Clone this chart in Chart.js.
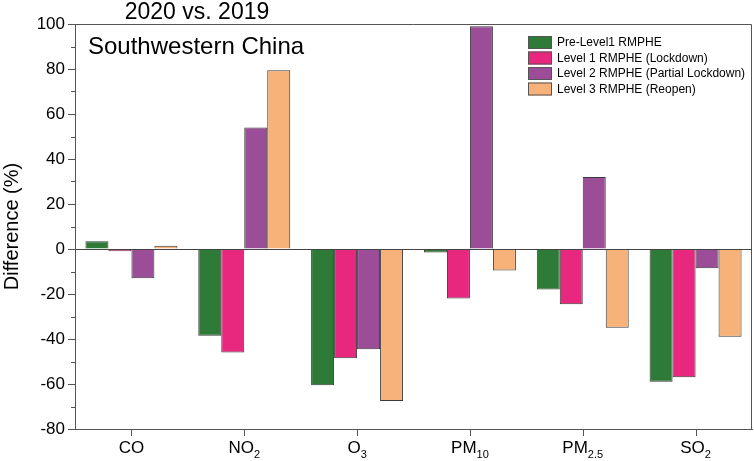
<!DOCTYPE html>
<html>
<head>
<meta charset="utf-8">
<script src="https://cdn.jsdelivr.net/npm/chart.js@4.4.1/dist/chart.umd.min.js"></script>
<style>
  html, body { margin: 0; padding: 0; background: #fff; }
  #wrap { width: 754px; height: 461px; }
</style>
</head>
<body>
<div id="wrap"><canvas id="grafico"></canvas></div>
<script>
// poluentes: [base, subscrito]
const poluentes = [['CO', ''], ['NO', '2'], ['O', '3'], ['PM', '10'], ['PM', '2.5'], ['SO', '2']];
const preLevel1 = [3.5, -38.5, -60.5, -1.5, -18, -59];
const level1 = [-1, -46, -48.5, -22, -24.5, -57];
const level2 = [-13, 54, -44.5, 99, 32, -8.5];
const level3 = [1.5, 79.5, -67.5, -9.5, -35, -39];
const yTicks = [-80, -60, -40, -20, 0, 20, 40, 60, 80, 100];

const fonte = '"Liberation Sans", Arial, sans-serif';

const extras = {
    id: 'extras',
    afterDraw(chart) {
        const ctx = chart.ctx;
        const area = chart.chartArea;
        const x = chart.scales.x;
        const y = chart.scales.y;
        ctx.save();

        // moldura
        ctx.strokeStyle = '#555';
        ctx.lineWidth = 1;
        ctx.beginPath();
        ctx.moveTo(area.left, area.top + 0.5);
        ctx.lineTo(area.right - 0.5, area.top + 0.5);
        ctx.lineTo(area.right - 0.5, area.bottom);
        ctx.stroke();

        // linha do zero
        const y0 = Math.round(y.getPixelForValue(0)) + 0.5;
        ctx.strokeStyle = '#444';
        ctx.beginPath();
        ctx.moveTo(area.left, y0);
        ctx.lineTo(area.right, y0);
        ctx.stroke();

        // ticks menores
        ctx.strokeStyle = '#555';
        for (let v = -70; v <= 90; v += 20) {
            const py = Math.round(y.getPixelForValue(v)) + 0.5;
            ctx.beginPath();
            ctx.moveTo(area.left - 4, py);
            ctx.lineTo(area.left, py);
            ctx.stroke();
        }

        // ticks do eixo x no centro das categorias
        poluentes.forEach(function (p, i) {
            const px = Math.round(x.getPixelForValue(i)) + 0.5;
            ctx.beginPath();
            ctx.moveTo(px, area.bottom);
            ctx.lineTo(px, area.bottom + 7);
            ctx.stroke();
        });

        // rotulos do eixo x com subscrito
        ctx.fillStyle = '#000';
        ctx.textBaseline = 'alphabetic';
        poluentes.forEach(function (p, i) {
            const cx = x.getPixelForValue(i);
            ctx.font = '17px ' + fonte;
            const wBase = ctx.measureText(p[0]).width;
            ctx.font = '11px ' + fonte;
            const wSub = ctx.measureText(p[1]).width;
            const x0 = cx - (wBase + wSub) / 2;
            ctx.font = '17px ' + fonte;
            ctx.textAlign = 'left';
            ctx.fillText(p[0], x0, 453);
            ctx.font = '11px ' + fonte;
            ctx.fillText(p[1], x0 + wBase, 458);
        });

        // titulo e regiao
        ctx.font = '23px ' + fonte;
        ctx.textAlign = 'center';
        ctx.fillText('2020 vs. 2019', 197, 19);
        ctx.font = '24px ' + fonte;
        ctx.textAlign = 'left';
        ctx.fillText('Southwestern China', 88, 54);

        // legenda
        ctx.font = '12px ' + fonte;
        ctx.textBaseline = 'middle';
        chart.data.datasets.forEach(function (ds, i) {
            const ly = 42 + i * 15.5;
            ctx.fillStyle = ds.backgroundColor;
            ctx.fillRect(528, ly - 6, 24, 13);
            ctx.strokeStyle = '#555';
            ctx.strokeRect(528.5, ly - 5.5, 23, 12);
            ctx.fillStyle = '#000';
            ctx.fillText(ds.label, 557, ly + 1);
        });

        ctx.restore();
    }
};

const ctx = document.getElementById('grafico').getContext('2d');
const grafico = new Chart(ctx, {
    type: 'bar',
    data: {
        labels: poluentes.map(p => p[0] + p[1]),
        datasets: [
            { label: 'Pre-Level1 RMPHE', data: preLevel1, backgroundColor: '#2e7b37' },
            { label: 'Level 1 RMPHE (Lockdown)', data: level1, backgroundColor: '#e8287e' },
            { label: 'Level 2 RMPHE (Partial Lockdown)', data: level2, backgroundColor: '#9b4d97' },
            { label: 'Level 3 RMPHE (Reopen)', data: level3, backgroundColor: '#f7b27a' }
        ]
    },
    options: {
        responsive: true,
        maintainAspectRatio: false,
        animation: false,
        datasets: {
            bar: {
                categoryPercentage: 0.815,
                barPercentage: 1,
                borderWidth: 1,
                borderColor: '#3a3a3a'
            }
        },
        layout: { padding: { top: 24, right: 2, left: 0, bottom: 0 } },
        plugins: {
            legend: { display: false },
            tooltip: { enabled: false }
        },
        scales: {
            x: {
                grid: { display: false },
                border: { color: '#555' },
                ticks: { callback: () => '', font: { size: 17, family: fonte } },
                afterFit: function (scale) { scale.height = 32; }
            },
            y: {
                min: -80,
                max: 100,
                afterBuildTicks: function (scale) {
                    scale.ticks = yTicks.map(v => ({ value: v }));
                },
                grid: { drawOnChartArea: false, tickLength: 7, color: '#555' },
                border: { color: '#555' },
                ticks: {
                    color: '#000',
                    padding: 3,
                    font: { size: 17, family: fonte }
                },
                title: {
                    display: true,
                    text: 'Difference (%)',
                    color: '#000',
                    font: { size: 20, family: fonte },
                    padding: { top: 0, bottom: 0 }
                },
                afterFit: function (scale) { scale.width = 75; }
            }
        }
    },
    plugins: [extras]
});
</script>
</body>
</html>
